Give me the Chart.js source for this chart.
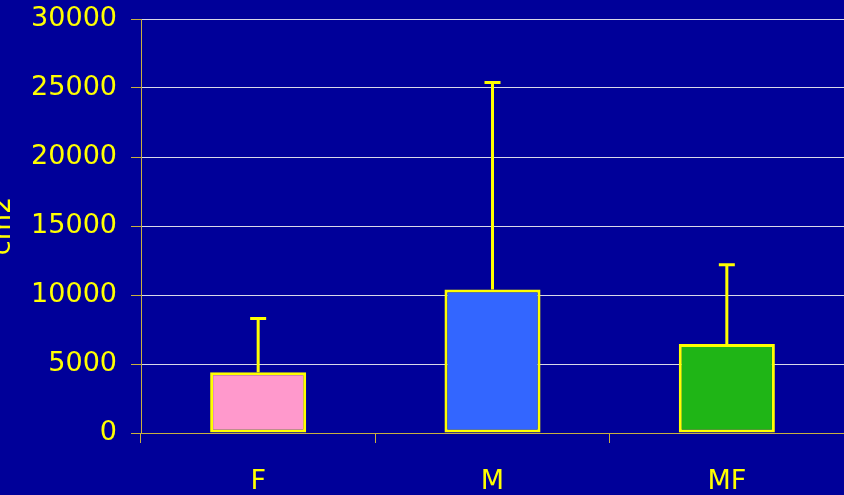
<!DOCTYPE html>
<html>
<head>
<meta charset="utf-8">
<script src="https://cdn.jsdelivr.net/npm/chart.js@4/dist/chart.umd.min.js"></script>
<style>
html,body{margin:0;padding:0;background:#000099;}
canvas{display:block;}
</style>
</head>
<body>
<canvas id="c" width="844" height="495"></canvas>
<script>
const categories = ['F', 'M', 'MF'];
const means = [4400, 10400, 6450];
const sd = [3900, 15000, 5750];
const yTicks = [0, 5000, 10000, 15000, 20000, 25000, 30000];
const yTitle = 'cm2';
const barColors = ['#FF99CC', '#3366FF', '#1FB516'];

const YELLOW = '#FFFF00';
const GOLD = '#C8B040';
const FONT = 'DejaVu Sans';

const bgPlugin = {
  id: 'bg',
  beforeDraw(chart) {
    const ctx = chart.ctx;
    ctx.save();
    ctx.fillStyle = '#000099';
    ctx.fillRect(0, 0, chart.width, chart.height);
    ctx.restore();
  }
};

const errPlugin = {
  id: 'errbars',
  afterDatasetsDraw(chart) {
    const ctx = chart.ctx;
    const meta = chart.getDatasetMeta(0);
    const y = chart.scales.y;
    ctx.save();
    ctx.strokeStyle = YELLOW;
    ctx.lineWidth = 3;
    meta.data.forEach((bar, i) => {
      const x = bar.x;
      const y0 = y.getPixelForValue(means[i]);
      const y1 = y.getPixelForValue(means[i] + sd[i]);
      ctx.beginPath();
      ctx.moveTo(x, y0);
      ctx.lineTo(x, y1);
      ctx.moveTo(x - 8, y1);
      ctx.lineTo(x + 8, y1);
      ctx.stroke();
    });
    ctx.restore();
  }
};

new Chart(document.getElementById('c'), {
  type: 'bar',
  data: {
    labels: categories,
    datasets: [{
      data: means,
      backgroundColor: barColors,
      borderColor: YELLOW,
      borderWidth: 3,
      borderSkipped: false,
      categoryPercentage: 1,
      barPercentage: 0.41
    }]
  },
  options: {
    responsive: false,
    animation: false,
    layout: { padding: { top: 19, left: 0, right: 0, bottom: 0 } },
    plugins: {
      legend: { display: false },
      tooltip: { enabled: false }
    },
    scales: {
      x: {
        offset: true,
        grid: {
          display: true,
          drawOnChartArea: false,
          drawTicks: true,
          tickLength: 10,
          tickColor: GOLD,
          offset: true
        },
        border: { color: GOLD, width: 1 },
        ticks: {
          color: YELLOW,
          font: { family: FONT, size: 27 },
          padding: 23,
          maxRotation: 0
        },
        afterFit(scale) { scale.height = 62; }
      },
      y: {
        min: 0,
        max: 30000,
        afterBuildTicks(scale) { scale.ticks = yTicks.map(v => ({ value: v })); },
        grid: {
          color: '#D8D8E8',
          lineWidth: 1,
          tickLength: 10,
          tickColor: GOLD
        },
        border: { color: GOLD, width: 1 },
        ticks: {
          color: YELLOW,
          font: { family: FONT, size: 27 },
          padding: 14,
          callback: (v) => String(v)
        },
        title: {
          display: true,
          text: yTitle,
          color: YELLOW,
          font: { family: FONT, size: 27 },
          padding: { top: -13, bottom: 0 }
        },
        afterFit(scale) {
          scale.width = 141;
          scale.paddingTop = 0;
          scale.paddingBottom = 0;
        }
      }
    }
  },
  plugins: [bgPlugin, errPlugin]
});
</script>
</body>
</html>
